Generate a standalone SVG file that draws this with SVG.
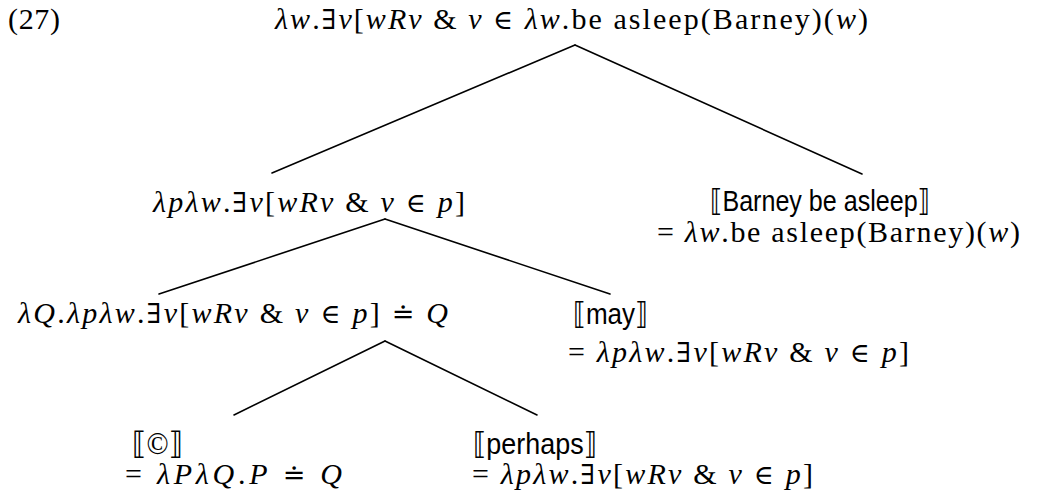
<svg xmlns="http://www.w3.org/2000/svg" width="1045" height="498" viewBox="0 0 1045 498">
<style>
text{font-family:"Liberation Serif",serif;font-size:30px;fill:#000}
.i{font-style:italic}
.m{font-family:"DejaVu Serif",serif;font-size:27px}
.s{font-family:"Liberation Sans","DejaVu Sans",sans-serif;font-size:30px}
.c{font-family:"Liberation Serif","DejaVu Sans",serif;font-size:31px}
.edges line{stroke:#000;stroke-width:1.6;stroke-linecap:round}
</style>
<rect width="1045" height="498" fill="#fff"/>
<text id="label27" x="8" y="29" textLength="52">(27)</text>
<g class="edges" id="connectors">
<line x1="575" y1="45" x2="272" y2="173"/>
<line x1="575" y1="45" x2="862" y2="174"/>
<line x1="385" y1="219" x2="159" y2="294"/>
<line x1="385" y1="219" x2="610" y2="294"/>
<line x1="385" y1="341" x2="234" y2="415"/>
<line x1="385" y1="341" x2="537" y2="415"/>
</g>
<g id="root">
<text x="275" y="29" textLength="593"><tspan class="i">λw</tspan>.<tspan class="m">∃</tspan><tspan class="i">v</tspan>[<tspan class="i">wRv</tspan> &amp; <tspan class="i">v</tspan> <tspan class="m">∈</tspan> <tspan class="i">λw</tspan>.be asleep(Barney)(<tspan class="i">w</tspan>)</text>
</g>
<g id="node-modal">
<text x="153" y="212" textLength="312"><tspan class="i">λpλw</tspan>.<tspan class="m">∃</tspan><tspan class="i">v</tspan>[<tspan class="i">wRv</tspan> &amp; <tspan class="i">v</tspan> <tspan class="m">∈</tspan> <tspan class="i">p</tspan>]</text>
</g>
<g id="node-barney">
<text class="s" x="710" y="211" textLength="220" lengthAdjust="spacingAndGlyphs">⟦Barney be asleep⟧</text>
<text x="657" y="242" textLength="363">= <tspan class="i">λw</tspan>.be asleep(Barney)(<tspan class="i">w</tspan>)</text>
</g>
<g id="node-c-perhaps">
<text x="18" y="323" textLength="430"><tspan class="i">λQ</tspan>.<tspan class="i">λpλw</tspan>.<tspan class="m">∃</tspan><tspan class="i">v</tspan>[<tspan class="i">wRv</tspan> &amp; <tspan class="i">v</tspan> <tspan class="m">∈</tspan> <tspan class="i">p</tspan>] <tspan class="m">≐</tspan> <tspan class="i">Q</tspan></text>
</g>
<g id="node-may">
<text class="s" x="573" y="324" textLength="75" lengthAdjust="spacingAndGlyphs">⟦may⟧</text>
<text x="568" y="362" textLength="341">= <tspan class="i">λpλw</tspan>.<tspan class="m">∃</tspan><tspan class="i">v</tspan>[<tspan class="i">wRv</tspan> &amp; <tspan class="i">v</tspan> <tspan class="m">∈</tspan> <tspan class="i">p</tspan>]</text>
</g>
<g id="node-c">
<text class="c" x="132" y="454" textLength="51" lengthAdjust="spacingAndGlyphs">⟦©⟧</text>
<text x="125" y="484" textLength="217">= <tspan class="i">λPλQ</tspan>.<tspan class="i">P</tspan> <tspan class="m">≐</tspan> <tspan class="i">Q</tspan></text>
</g>
<g id="node-perhaps">
<text class="s" x="473" y="454" textLength="124" lengthAdjust="spacingAndGlyphs">⟦perhaps⟧</text>
<text x="472" y="484" textLength="341">= <tspan class="i">λpλw</tspan>.<tspan class="m">∃</tspan><tspan class="i">v</tspan>[<tspan class="i">wRv</tspan> &amp; <tspan class="i">v</tspan> <tspan class="m">∈</tspan> <tspan class="i">p</tspan>]</text>
</g>
</svg>
